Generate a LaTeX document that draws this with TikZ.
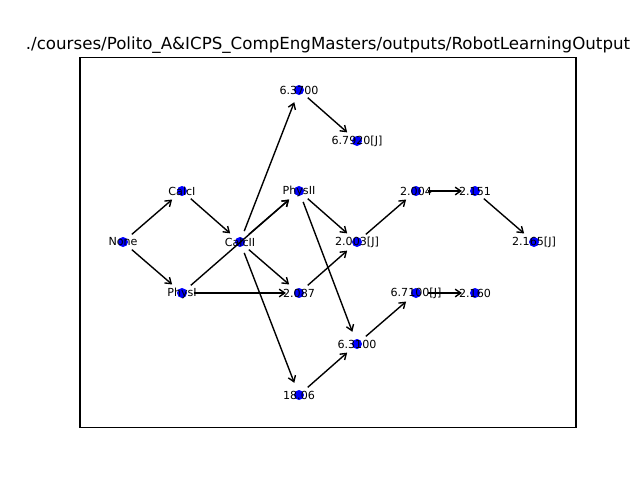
\documentclass[tikz,border=0pt]{standalone}
\usepackage{fontspec}
\setmainfont{DejaVu Sans}
\usetikzlibrary{arrows.meta}
\tikzset{
  vtx/.style={circle, fill=blue, minimum size=7.2pt, inner sep=0pt,
    label={[font=\fontsize{8}{9}\selectfont, inner sep=0pt, text=black]center:{#1}}},
  edge/.style={-{Straight Barb[length=4pt,width=5.5pt]}, line width=1pt,
    shorten <=4.6pt, shorten >=5.6pt},
  frame/.style={draw=black, line width=0.8pt}
}
\begin{document}
\begin{tikzpicture}[x=0.72pt,y=-0.72pt]
\useasboundingbox (0,0) rectangle (640,480);
\draw[frame] (80,57.6) rectangle (576,427.2);
\node[anchor=base, font=\fontsize{12}{14}\selectfont, inner sep=0pt] (title) at (328,49.3) {./courses/Polito\_A\&ICPS\_CompEngMasters/outputs/RobotLearningOutput};
% nodes
\node[vtx={None}] (none) at (123,242) {};
\node[vtx={CalcI}] (calcI) at (182,191) {};
\node[vtx={PhysI}] (physI) at (182,293) {};
\node[vtx={CalcII}] (calcII) at (240,242) {};
\node[vtx={PhysII}] (physII) at (299,191) {};
\node[vtx={6.3700}] (a6370) at (299,90) {};
\node[vtx={6.7920[J]}] (a6792) at (357,141) {};
\node[vtx={2.003[J]}] (a2003) at (357,242) {};
\node[vtx={2.087}] (a2087) at (299,293) {};
\node[vtx={6.3100}] (a6310) at (357,344) {};
\node[vtx={18.06}] (a1806) at (299,395) {};
\node[vtx={2.004}] (a2004) at (416,191) {};
\node[vtx={2.151}] (a2151) at (475,191) {};
\node[vtx={2.165[J]}] (a2165) at (534,242) {};
\node[vtx={6.7100[J]}] (a6710) at (416,293) {};
\node[vtx={2.160}] (a2160) at (475,293) {};
% edges
\draw[edge] (none) -- (calcI);
\draw[edge] (none) -- (physI);
\draw[edge] (calcI) -- (calcII);
\draw[edge] (physI) -- (physII);
\draw[edge] (physI) -- (a2087);
\draw[edge] (calcII) -- (physII);
\draw[edge] (calcII) -- (a6370);
\draw[edge] (calcII) -- (a2087);
\draw[edge] (calcII) -- (a1806);
\draw[edge] (physII) -- (a2003);
\draw[edge] (physII) -- (a6310);
\draw[edge] (a6370) -- (a6792);
\draw[edge] (a2087) -- (a2003);
\draw[edge] (a2003) -- (a2004);
\draw[edge] (a2004) -- (a2151);
\draw[edge] (a2151) -- (a2165);
\draw[edge] (a1806) -- (a6310);
\draw[edge] (a6310) -- (a6710);
\draw[edge] (a6710) -- (a2160);
\end{tikzpicture}
\end{document}
